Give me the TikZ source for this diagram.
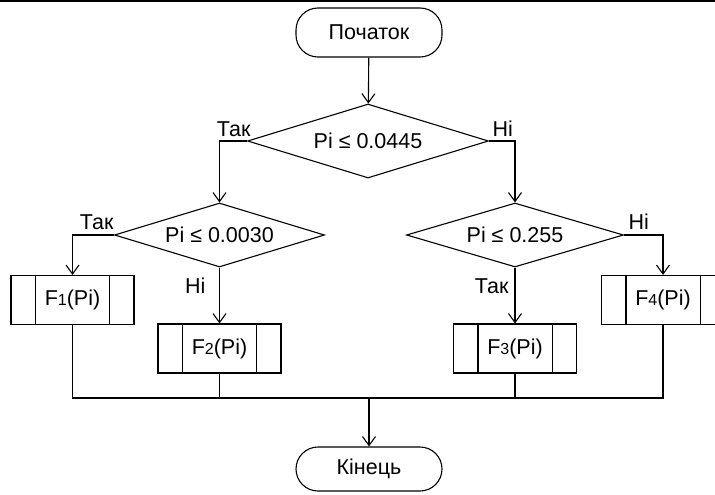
\documentclass[tikz,border=0pt]{standalone}
\usepackage{fontspec}
\setmainfont{Liberation Sans}
\usetikzlibrary{arrows.meta,shapes.geometric}
\newcommand{\sdig}[1]{{\fontsize{16}{16}\selectfont #1}}
\tikzset{
  term/.style={draw,rounded corners=22pt,minimum width=146pt,inner sep=0pt},
  cond/.style={draw,diamond,aspect=3,inner sep=0pt},
  subproc/.style={draw,minimum width=123pt,minimum height=49pt,inner sep=0pt},
  lbl/.style={inner sep=0pt},
  flow/.style={-{Straight Barb[length=9pt,width=13pt]}},
}
\begin{document}
\begin{tikzpicture}[x=1pt,y=-1pt,line width=1.1pt,font=\fontsize{21.5}{24}\selectfont]
\useasboundingbox (0,0) rectangle (715,495);
\clip (0,0) rectangle (715,495);
\fill (0,0) rectangle (715,2.5);
% terminals
\node[term,minimum height=49pt] (start) at (369,32.5) {Початок};
\node[term,minimum height=44pt] (end) at (369,469) {Кінець};
% conditions
\node[cond,minimum width=241pt,minimum height=74pt] (d1) at (368,141) {Pi ≤ 0.0445};
\node[cond,minimum width=210pt,minimum height=64pt] (d2) at (219.5,235) {Pi ≤ 0.0030};
\node[cond,minimum width=217pt,minimum height=64pt] (d3) at (515,235) {Pi ≤ 0.255};
% subprocesses
\node[subproc] (f1) at (72.5,300) {F\sdig{1}(Pi)};
\node[subproc] (f2) at (219.5,348.5) {F\sdig{2}(Pi)};
\node[subproc] (f3) at (515,348.5) {F\sdig{3}(Pi)};
\node[subproc] (f4) at (663,300) {F\sdig{4}(Pi)};
\foreach \n in {f1,f2,f3,f4}
  \draw ([xshift=25pt]\n.north west) -- ([xshift=25pt]\n.south west)
        ([xshift=-25pt]\n.north east) -- ([xshift=-25pt]\n.south east);
% branch labels
\node[lbl,anchor=base east] (y1) at (251,136) {Так};
\node[lbl,anchor=base west] (n1) at (492,136) {Ні};
\node[lbl,anchor=base east] (y2) at (114,229) {Так};
\node[lbl,anchor=base east] (n2) at (206,293) {Ні};
\node[lbl,anchor=base west] (n3) at (628,229) {Ні};
\node[lbl,anchor=base east] (y3) at (509,293) {Так};
% connectors
\draw[flow] (start) -- (d1);
\draw[flow] (d1.west) -| (d2);
\draw[flow] (d1.east) -| (d3);
\draw[flow] (d2.west) -| (f1);
\draw[flow] (d2) -- (f2);
\draw[flow] (d3.east) -| (f4);
\draw[flow] (d3) -- (f3);
\coordinate (j) at (369,398);
\draw (f1.south) |- (j) -| (f4.south);
\draw (f2.south) -- (f2.south |- j);
\draw (f3.south) -- (f3.south |- j);
\draw[flow] (j) -- (end);
\end{tikzpicture}
\end{document}
